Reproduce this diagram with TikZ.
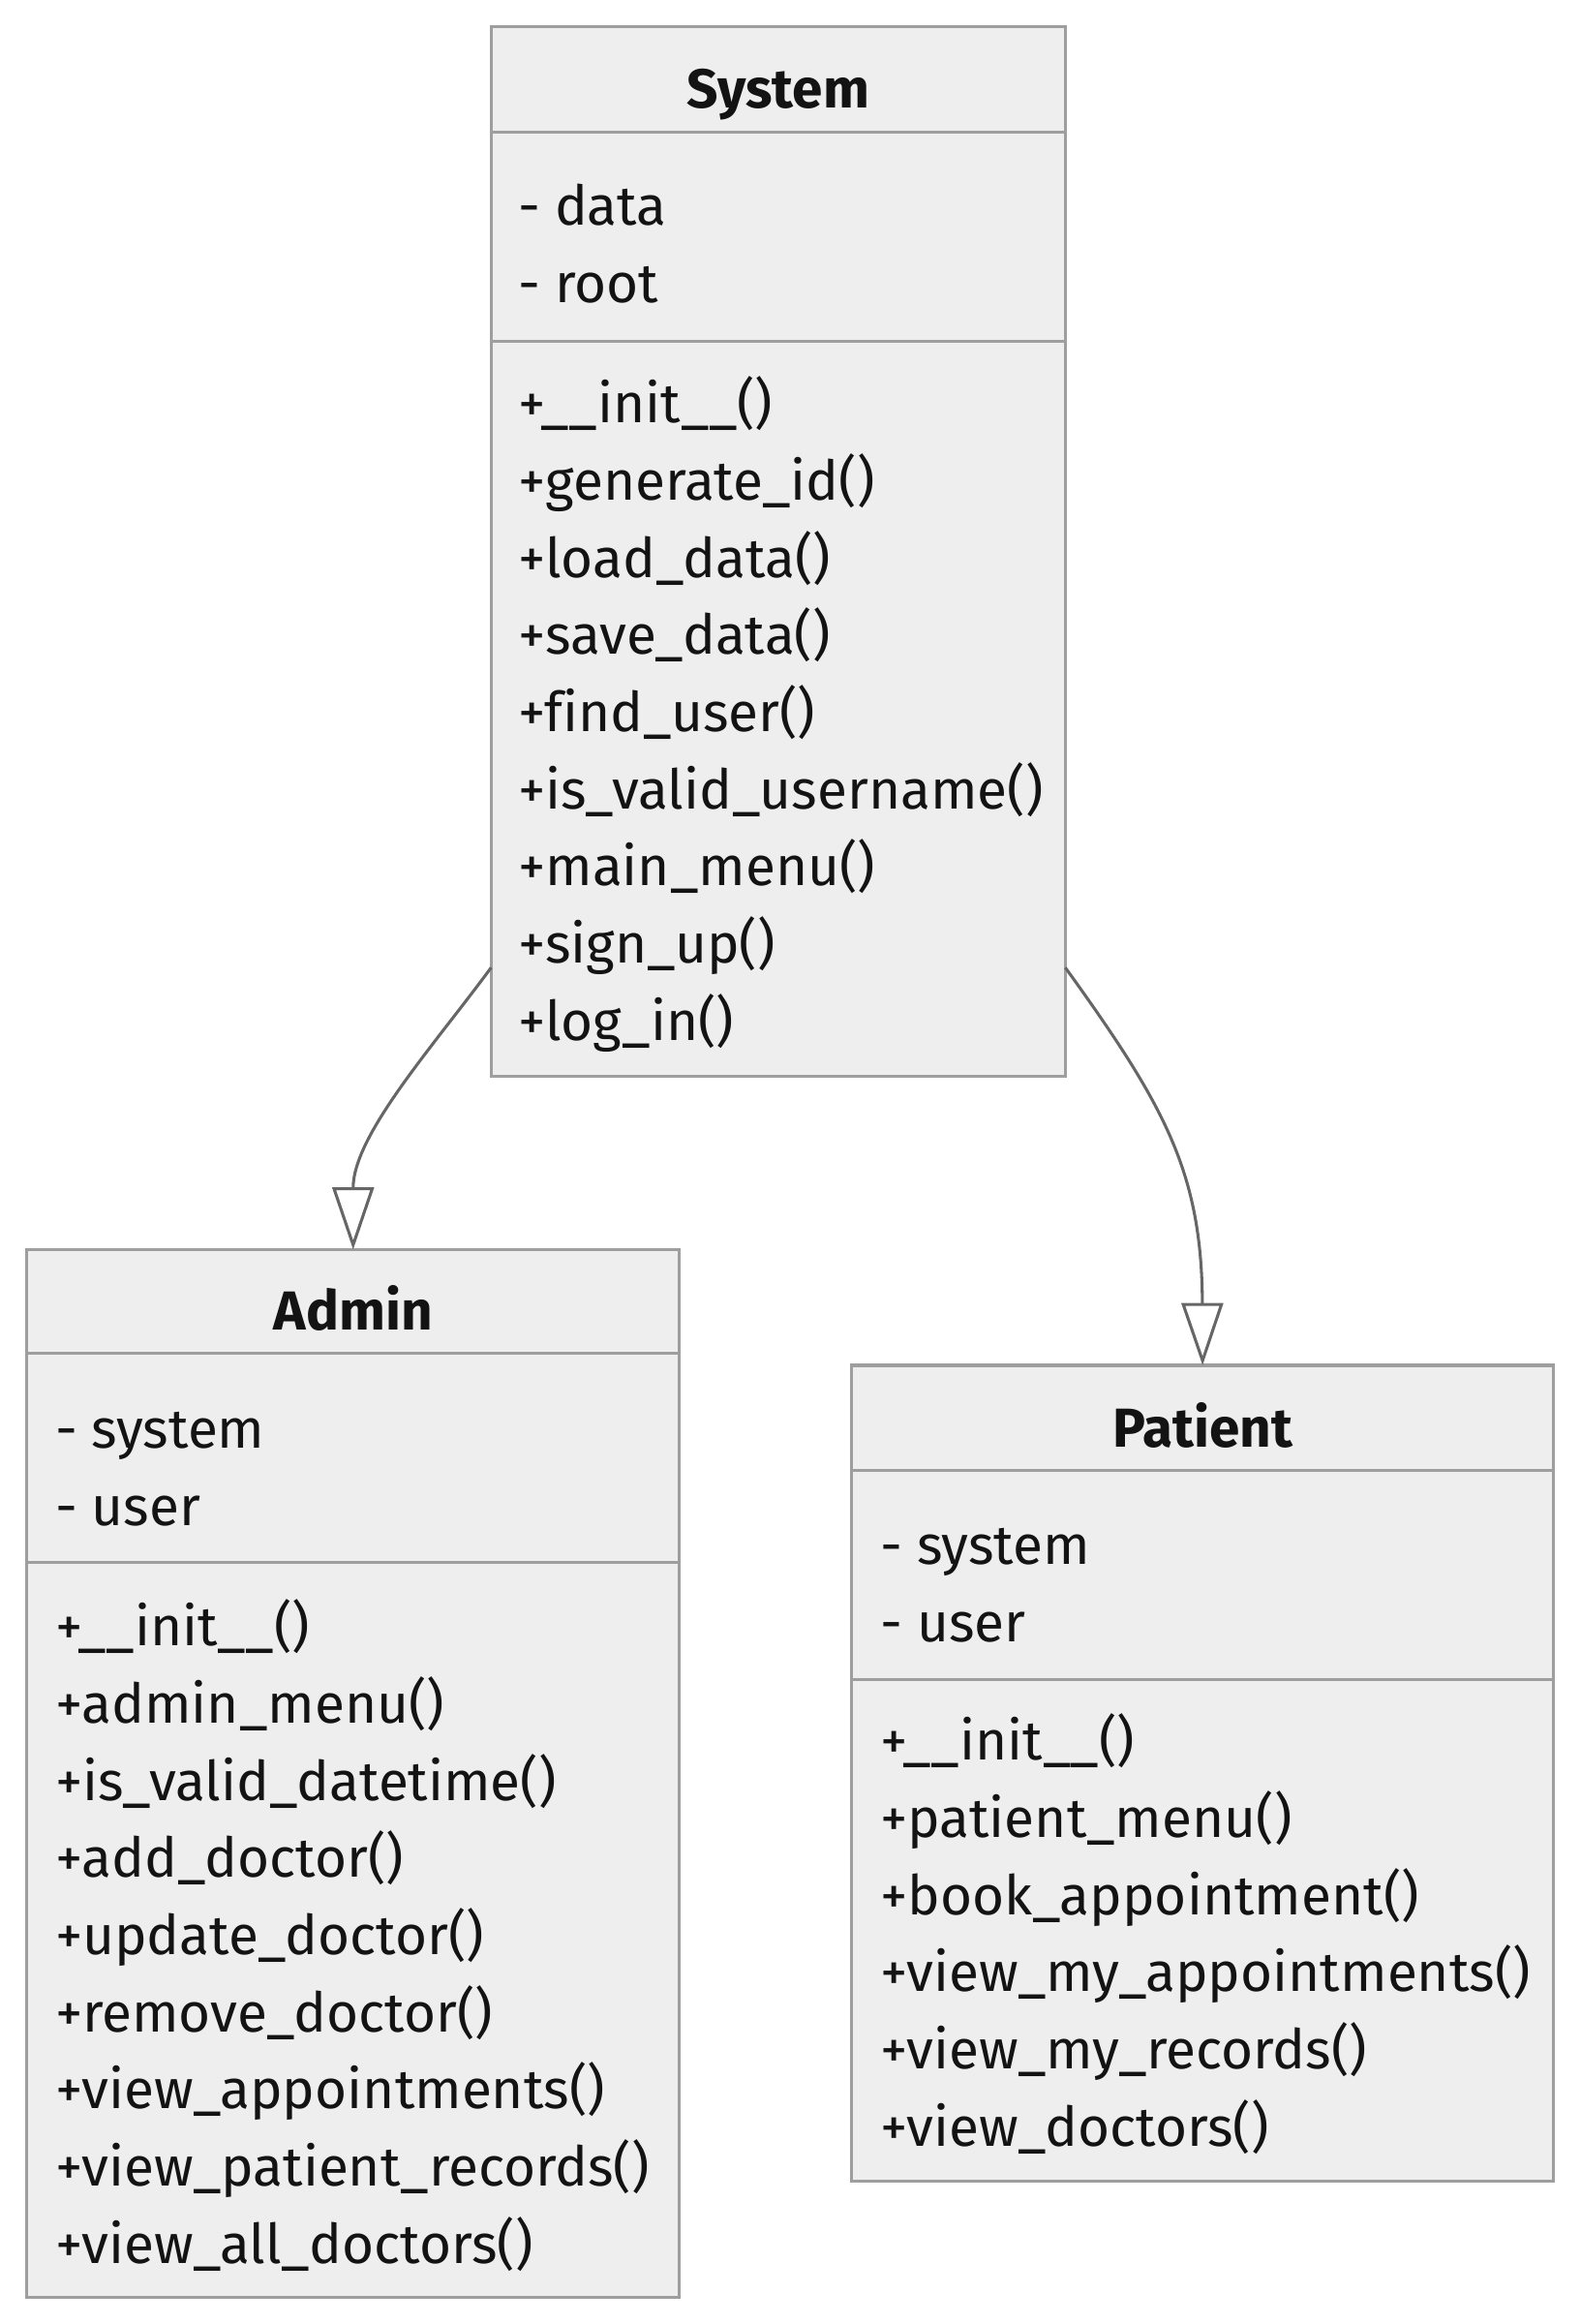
\documentclass[tikz,border=0pt]{standalone}
\usepackage{fontspec}
\setmainfont[Ligatures={NoCommon}]{Fira Sans}
\usetikzlibrary{arrows.meta}
\definecolor{boxfill}{HTML}{EEEEEE}
\definecolor{boxline}{HTML}{9E9E9E}
\definecolor{edgecol}{HTML}{666666}
\definecolor{txt}{HTML}{131313}
\begin{document}
\begin{tikzpicture}[x=1pt,y=-1pt,
  classbox/.style={draw=boxline, fill=boxfill, line width=2pt, rectangle, inner sep=0pt, outer sep=0pt, anchor=north west},
  member/.style={anchor=base west, inner sep=0pt, text=txt, font=\fontsize{37}{40}\selectfont},
  classtitle/.style={anchor=base, inner sep=0pt, text=txt, font=\fontsize{37}{40}\selectfont\bfseries},
  divider/.style={draw=boxline, line width=2pt},
  inherit/.style={draw=edgecol, line width=2pt, -{Triangle[open, length=42pt, width=28pt, line width=2pt]}}
]
\useasboundingbox (0,0) rectangle (1065,1566);
\fill[white] (0,0) rectangle (1065,1566);

% ---------- System ----------
\node[classbox, minimum width=387pt, minimum height=707pt] (sys) at (331,18) {};
\draw[divider] (331,89) -- (718,89);
\draw[divider] (331,230) -- (718,230);
\node[classtitle] (systitle) at (524.5,73) {System};
\node[member] (sa1) at (349,152) {- data};
\node[member] (sa2) at (349,204) {- root};
\node[member] (sm1) at (349,285) {+\_\_init\_\_()};
\node[member] (sm2) at (349,337) {+generate\_id()};
\node[member] (sm3) at (349,389) {+load\_data()};
\node[member] (sm4) at (349,441) {+save\_data()};
\node[member] (sm5) at (349,493) {+find\_user()};
\node[member] (sm6) at (349,545) {+is\_valid\_username()};
\node[member] (sm7) at (349,597) {+main\_menu()};
\node[member] (sm8) at (349,649) {+sign\_up()};
\node[member] (sm9) at (349,701) {+log\_in()};

% ---------- Admin ----------
\node[classbox, minimum width=440pt, minimum height=706pt] (adm) at (18,842) {};
\draw[divider] (18,912) -- (458,912);
\draw[divider] (18,1053) -- (458,1053);
\node[classtitle] (admtitle) at (238,896) {Admin};
\node[member] (aa1) at (37,976) {- system};
\node[member] (aa2) at (37,1028) {- user};
\node[member] (am1) at (37,1109) {+\_\_init\_\_()};
\node[member] (am2) at (37,1161) {+admin\_menu()};
\node[member] (am3) at (37,1213) {+is\_valid\_datetime()};
\node[member] (am4) at (37,1265) {+add\_doctor()};
\node[member] (am5) at (37,1317) {+update\_doctor()};
\node[member] (am6) at (37,1369) {+remove\_doctor()};
\node[member] (am7) at (37,1421) {+view\_appointments()};
\node[member] (am8) at (37,1473) {+view\_patient\_records()};
\node[member] (am9) at (37,1525) {+view\_all\_doctors()};

% ---------- Patient ----------
\node[classbox, minimum width=473pt, minimum height=550pt] (pat) at (574,920) {};
\draw[divider] (574,991) -- (1047,991);
\draw[divider] (574,1132) -- (1047,1132);
\node[classtitle] (pattitle) at (810.5,975) {Patient};
\node[member] (pa1) at (593,1054) {- system};
\node[member] (pa2) at (593,1106) {- user};
\node[member] (pm1) at (593,1186) {+\_\_init\_\_()};
\node[member] (pm2) at (593,1238) {+patient\_menu()};
\node[member] (pm3) at (593,1290) {+book\_appointment()};
\node[member] (pm4) at (593,1342) {+view\_my\_appointments()};
\node[member] (pm5) at (593,1394) {+view\_my\_records()};
\node[member] (pm6) at (593,1446) {+view\_doctors()};

% ---------- Connectors ----------
\coordinate (sl) at ([yshift=73pt]sys.south west);
\coordinate (sr) at ([yshift=73pt]sys.south east);
\draw[inherit] (sl) .. controls (292,705) and (238,765) .. (adm.north);
\draw[inherit] (sr) .. controls (785,745) and (810,790) .. (pat.north);
\end{tikzpicture}
\end{document}
